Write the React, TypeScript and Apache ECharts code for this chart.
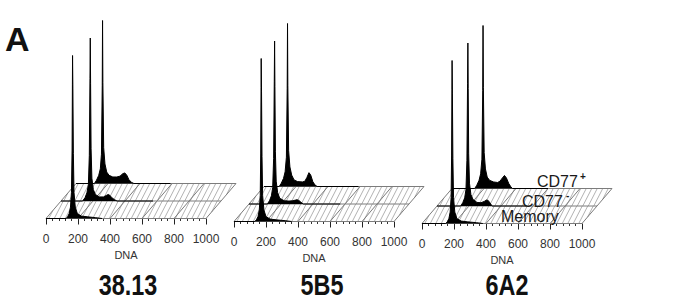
import React, { useEffect, useRef } from 'react';
import * as echarts from 'echarts';

// ---------- data ----------
const panelNames = ['38.13', '5B5', '6A2'];
const layerNames = ['Memory', 'CD77', 'CD77'];
const layerSup = ['', '-', '+'];
const dnaTicks = [0, 200, 400, 600, 800, 1000];

// [DNA, relative count (G1 peak = 100)]
const mem3813 = [[0,0],[125,0],[135,1],[145,3],[153,7],[159,16],[163,42],[165,82],[166,100],[168,80],[171,40],[175,16],[183,7],[196,3],[221,1.5],[261,1],[311,0.5],[350,0]];
const neg3813 = [[0,0],[135,0],[150,2],[162,5],[171,10],[177,28],[181,75],[183,100],[185,72],[188,32],[193,14],[202,7],[215,4],[240,2.5],[265,2.5],[285,3.5],[295,4],[305,3.5],[318,2],[335,0.8],[350,0],[575,0]];
const pos3813 = [[0,0],[115,0],[128,2],[142,5],[152,9],[159,18],[164,60],[166,100],[168,62],[173,22],[181,12],[192,7],[207,5],[230,4],[255,4],[275,4.5],[292,6],[305,6.5],[318,5],[330,2.5],[345,0.8],[362,0],[590,0]];

const mem5B5 = [[0,0],[130,0],[140,1],[150,3],[158,7],[164,16],[167,42],[169,82],[170,100],[172,80],[175,40],[179,16],[187,7],[200,3],[225,1.5],[265,1],[320,0.5],[360,0]];
const neg5B5 = [[0,0],[115,0],[128,2],[140,5],[148,10],[154,28],[158,75],[160,100],[162,72],[165,32],[170,14],[179,7],[192,3.5],[220,2],[250,1.8],[275,2],[290,2.4],[300,2.6],[312,2.2],[325,1],[340,0],[570,0]];
const pos5B5 = [[0,0],[95,0],[108,2],[122,5],[132,9],[140,18],[145,60],[147,100],[149,62],[154,22],[162,12],[173,7],[188,4],[210,3],[240,2.8],[255,3.2],[268,5.5],[281,8.5],[292,7],[305,3],[318,1],[332,0],[590,0]];

const mem6A2 = [[0,0],[148,0],[158,1],[168,3],[176,7],[182,16],[185,42],[187,82],[188,100],[190,80],[193,40],[197,16],[205,7],[218,3],[245,1.5],[285,1],[340,0.5],[380,0]];
const neg6A2 = [[0,0],[148,0],[161,2],[173,5],[181,10],[187,28],[191,75],[193,100],[195,72],[198,32],[203,14],[212,7],[225,4],[250,2.2],[275,2],[295,2.8],[310,3.7],[320,3.4],[332,1.8],[344,0],[560,0]];
const pos6A2 = [[0,0],[142,0],[155,2],[169,5],[179,9],[187,18],[192,60],[194,100],[196,62],[201,22],[209,12],[220,7],[235,5],[260,4],[285,3.7],[300,4.5],[315,6.5],[328,8],[340,6.5],[355,3],[368,1],[378,0],[600,0]];

const histograms = [
  [mem3813, neg3813, pos3813],
  [mem5B5, neg5B5, pos5B5],
  [mem6A2, neg6A2, pos6A2],
];

// ---------- layout ----------
const X0 = [46, 234, 422];
const BASE = [218.5, 221.5, 223.5];
const W = 160;
const PEAK = 163;
const DX = 15;
const DY = 17.5;
const FONT = '"Liberation Sans", Arial, Helvetica, sans-serif';

function floorRender(params: any, api: any) {
  const o = api.coord([0, 0]);
  const e = api.coord([1000, 0]);
  const w = e[0] - o[0];
  const children: any[] = [];
  const hatch = '#a9a9a9';
  const edge = '#7c7c7c';
  const HX = 9;
  const step = 5.5;
  for (let s = 0; s < 2; s++) {
    const xL = o[0] + s * DX;
    const yb = o[1] - s * DY;
    for (let t = step / 2; t < w + DX - HX; t += step) {
      const u0 = Math.max(0, (t - w) / (DX - HX));
      const u1 = Math.min(1, t / (DX - HX));
      if (u1 <= u0) continue;
      children.push({
        type: 'line',
        shape: { x1: xL + t + HX * u0, y1: yb - DY * u0, x2: xL + t + HX * u1, y2: yb - DY * u1 },
        style: { stroke: hatch, lineWidth: 0.9 },
      });
    }
  }
  dnaTicks.forEach((d) => {
    const c = api.coord([d, 0]);
    children.push({
      type: 'line',
      shape: { x1: c[0], y1: c[1], x2: c[0] + 2 * DX, y2: c[1] - 2 * DY },
      style: { stroke: edge, lineWidth: 1 },
    });
  });
  for (let k = 0; k < 3; k++) {
    children.push({
      type: 'line',
      shape: { x1: o[0] + k * DX, y1: o[1] - k * DY, x2: e[0] + k * DX, y2: e[1] - k * DY },
      style: { stroke: edge, lineWidth: 1 },
    });
  }
  return { type: 'group', children };
}

export default function App() {
  const ref = useRef<HTMLDivElement>(null);
  useEffect(() => {
    document.body.style.margin = '0';
    const chart = echarts.init(ref.current!, null, { renderer: 'svg' });
    const grids: any[] = [];
    const xAxes: any[] = [];
    const yAxes: any[] = [];
    const series: any[] = [];
    for (let p = 0; p < 3; p++) {
      for (let k = 0; k < 3; k++) {
        const idx = p * 3 + k;
        grids.push({ left: X0[p] + k * DX, top: BASE[p] - k * DY - PEAK, width: W, height: PEAK });
        xAxes.push({
          gridIndex: idx,
          type: 'value',
          min: 0,
          max: 1000,
          interval: 200,
          show: k === 0,
          offset: 4,
          axisLine: { show: false },
          axisTick: { show: true, length: 6, lineStyle: { color: '#222', width: 1 } },
          minorTick: { show: true, splitNumber: 5, length: 2.5, lineStyle: { color: '#333', width: 1 } },
          splitLine: { show: false },
          minorSplitLine: { show: false },
          axisLabel: { fontSize: 12, color: '#333', margin: 10, fontFamily: FONT, formatter: (v: number) => String(v) },
          name: 'DNA',
          nameLocation: 'middle',
          nameGap: 27,
          nameTextStyle: { fontSize: 11, color: '#333', fontFamily: FONT },
        });
        yAxes.push({ gridIndex: idx, type: 'value', min: 0, max: 100, show: false, splitLine: { show: false } });
      }
      series.push({
        type: 'custom',
        xAxisIndex: p * 3,
        yAxisIndex: p * 3,
        data: [[0, 0]],
        clip: false,
        silent: true,
        z: 2,
        renderItem: floorRender,
      });
      for (let k = 2; k >= 0; k--) {
        const idx = p * 3 + k;
        series.push({
          type: 'line',
          name: panelNames[p] + ' ' + layerNames[k] + layerSup[k],
          xAxisIndex: idx,
          yAxisIndex: idx,
          data: histograms[p][k],
          showSymbol: false,
          symbol: 'none',
          clip: false,
          z: 5 - k,
          lineStyle: { color: '#000', width: 1 },
          areaStyle: { color: '#000', opacity: 1 },
        });
      }
    }
    const texts: any[] = [
      {
        type: 'text', x: 5, y: 39, z: 10,
        style: { text: 'A', fontSize: 34, fontWeight: 'bold', fontFamily: FONT, fill: '#111', align: 'left', verticalAlign: 'middle', textAlign: 'left', textVerticalAlign: 'middle' },
      },
    ];
    const titleX = [128, 322, 507];
    panelNames.forEach((n, i) => {
      texts.push({
        type: 'text', x: titleX[i], y: 285, scaleX: 0.78, z: 10,
        style: { text: n, fontSize: 30, fontWeight: 'bold', fontFamily: FONT, fill: '#111', align: 'center', verticalAlign: 'middle', textAlign: 'center', textVerticalAlign: 'middle' },
      });
    });
    const legPos = [[501, 216.5], [522, 201], [537, 181.5]];
    const supPos = [[0, 0], [566, 195.5], [580, 176]];
    for (let k = 0; k < 3; k++) {
      texts.push({
        type: 'text', x: legPos[k][0], y: legPos[k][1], z: 10,
        style: { text: layerNames[k], fontSize: 16, lineHeight: 13, fontFamily: FONT, fill: '#1a1a1a', align: 'left', verticalAlign: 'middle', textAlign: 'left', textVerticalAlign: 'middle' },
      });
      if (layerSup[k]) {
        texts.push({
          type: 'text', x: supPos[k][0], y: supPos[k][1], z: 10,
          style: { text: layerSup[k], fontSize: 10, lineHeight: 6, fontWeight: 'bold', fontFamily: FONT, fill: '#1a1a1a', align: 'left', verticalAlign: 'middle', textAlign: 'left', textVerticalAlign: 'middle' },
        });
      }
    }
    chart.setOption({
      animation: false,
      backgroundColor: '#fff',
      grid: grids,
      xAxis: xAxes,
      yAxis: yAxes,
      series,
      graphic: texts,
    });
    return () => chart.dispose();
  }, []);
  return <div ref={ref} style={{ width: 688, height: 304 }} />;
}
